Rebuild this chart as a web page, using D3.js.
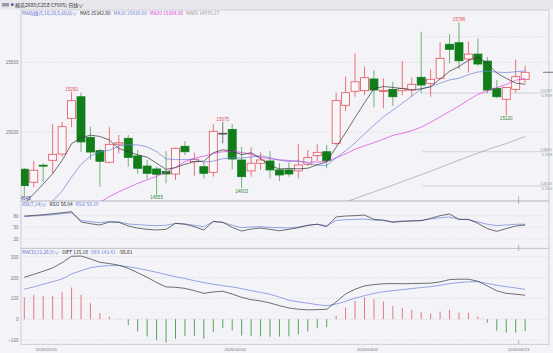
<!DOCTYPE html>
<html>
<head>
<meta charset="utf-8">
<script src="https://cdn.jsdelivr.net/npm/d3@7"></script>
<style>
  body { margin: 0; background: #f4f4f8; }
  svg { display: block; font-family: "Noto Sans CJK SC", "Noto Sans", sans-serif; }
</style>
</head>
<body>
<div id="chart"></div>
<script>
// Data (daily bars)
const opens  = [14736,14643,14765,14800,14845,15100,15254,14964,14869,14786,14915,14957,14831,14759,14738,14721,14702,14900,14790,14754,14714,14993,15021,14802,14724,14779,14795,14731,14731,14724,14771,14833,14861,14921,15193,15293,15297,15381,15292,15307,15297,15302,15393,15350,15386,15629,15640,15524,15559,15509,15314,15236,15307,15379];
const highs  = [14745,14797,14779,15059,15074,15290,15283,15040,14881,15036,14981,14981,14874,14802,14754,14866,14890,14938,14854,14783,15057,15075,15059,14897,14893,14857,14866,14779,14783,14914,14874,14914,14909,15283,15397,15564,15469,15445,15386,15361,15509,15390,15719,15450,15643,15702,15786,15647,15671,15536,15374,15321,15521,15476];
const lows   = [14545,14607,14647,14707,14826,15036,14861,14802,14610,14779,14850,14754,14702,14664,14555,14636,14659,14838,14690,14671,14683,14921,14736,14603,14683,14731,14671,14652,14683,14671,14759,14795,14743,14909,15152,15254,15266,15179,15171,15188,15266,15254,15279,15254,15379,15493,15452,15426,15474,15279,15243,15120,15283,15350];
const closes = [14619,14729,14758,14843,15040,15226,14931,14859,14793,14914,14925,14821,14743,14707,14700,14702,14886,14861,14807,14707,15007,14993,14809,14683,14779,14802,14731,14695,14702,14766,14821,14857,14797,15226,15283,15361,15390,15302,15300,15254,15314,15343,15338,15379,15529,15593,15511,15559,15488,15302,15254,15321,15397,15429];

const ma5  = [14490,14560,14630,14705,14798,14919,14960,14980,14970,14945,14884,14862,14839,14822,14779,14735,14748,14771,14791,14793,14854,14875,14865,14840,14854,14813,14761,14738,14742,14739,14743,14768,14789,14893,14997,15105,15211,15312,15327,15321,15312,15303,15310,15326,15381,15436,15470,15514,15536,15491,15423,15385,15352,15342.80];
const ma10 = [null,null,14450,14510,14580,14680,14770,14830,14860,14871,14902,14911,14910,14896,14862,14810,14805,14805,14807,14786,14794,14811,14818,14816,14823,14833,14818,14801,14791,14797,14778,14765,14763,14818,14868,14924,14990,15051,15110,15159,15208,15257,15311,15326,15351,15374,15386,15412,15431,15436,15430,15427,15433,15439.00];
const ma20 = [null,null,null,null,null,null,null,14470,14500,14540,14575,14605,14635,14660,14685,14715,14750,14790,14815,14829,14848,14861,14864,14856,14843,14821,14811,14803,14799,14791,14786,14788,14791,14817,14846,14879,14904,14926,14951,14978,14993,15011,15037,15072,15110,15149,15188,15231,15271,15297,15319,15342,15372,15384.08];
const ma60 = [null,null,null,null,null,null,null,null,null,null,null,null,null,null,null,null,null,null,null,null,null,null,null,null,null,null,null,null,null,null,null,null,null,14478,14502,14526,14551,14574,14598,14622,14648,14672,14697,14722,14748,14775,14801,14826,14851,14876,14898,14920,14945,14970.17];

const rsi1 = [79.5,81,83,85.5,88,90.8,64,59.5,56,64,63,53.5,48,44.7,43,44.7,60.4,58,51.7,43,65.5,63,49.8,40.3,45.5,48,44.7,41,44.7,49,55,58,51.7,77,79.5,80.4,82,70.8,69,63,65.5,66.4,67.3,73.4,80.4,84.7,70.8,70.8,60.4,46.5,39.5,46.5,53.5,56.04];
const rsi2 = [77.8,79.5,81,83,85.5,88,68,64.7,62.1,64.7,64,58.8,57,55.3,54.4,55.3,60.4,58.8,55.3,51.7,64.7,63,55.3,49,50.9,51.7,49.8,49,48,50.9,55.3,58,54.4,68,69.9,70.8,71.6,69,67.3,64.7,66.4,67.3,68,71.6,75,76.6,70.8,69.9,64,58,54.4,56.1,58,58.19];

const diff = [201,215,230,246,271,302,303,289,273,267,259,244,223,201,176,155,153,148,137,124,131,134,121,105,94,88,78,65,54,48,45,46,48,83,121,144,160,166,170,171,170,171,172,173,179,190,192,192,182,160,136,124,120,115.18];
const dea  = [144,155,168,180,193,217,233,247,254,257,257,252,244,235,225,214,204,195,185,176,168,161,155,147,137,129,120,106,91,83,77,70,65,73,86,101,113,124,132,137,142,147,152,156,163,171,176,179,180,172,163,156,150,143.41];
const macdHist = [105,117,112,112,131,152,117,77,29,13,2,-27,-59,-83,-99,-112,-93,-80,-80,-93,-61,-43,-54,-78,-80,-82,-84,-83,-82,-72,-59,-43,-38,16,57,88,105,97,85,64,54,45,34,26,37,45,32,32,13,-16,-54,-64,-64,-56.61];

const dateTickIndex  = [2, 22, 36, 52];
const dateTickLabels = ['2026/01/05', '2026/02/02', '2026/03/02', '2026/03/23'];
const priceTicks = [15000, 15500];
const rsiTicks   = [20, 50, 80];
const macdTicks  = [-100, 0, 100, 200, 300];

const highMarks = [5, 21, 46];
const lowMarks  = [0, 14, 23, 51];

const levelValues = [15683, 15281, 14861, 14616];
const levelRatios = ['', '0.809', '0.618', '0.500'];

// Dimensions
const dims = { width: 553, height: 353, left: 21, right: 549 };
const panes = {
  main: [10, 201],
  rsi:  [201, 248.3],
  macd: [248.3, 344.3],
};

const C = {
  up: '#e4505a', down: '#117d1b', downWick: '#4f9f4f', flat: '#555',
  ma5: '#333', ma10: '#6c80d8', ma20: '#e03ee0', ma60: '#a0a0a0',
  grid: '#cfcfd8', border: '#c4c4cc', axisText: '#777', label: '#5b6fd0',
};

const svg = d3.select('#chart')
  .append('svg')
  .attr('width', dims.width)
  .attr('height', dims.height);

// header strip
svg.append('rect').attr('width', dims.width).attr('height', 9.5).attr('fill', '#e7e7ec');
svg.append('rect').attr('x', 2).attr('y', 3).attr('width', 7).attr('height', 3.5).attr('fill', '#9a9aa6');
svg.append('rect').attr('x', 11).attr('y', 3.3).attr('width', 2.6).attr('height', 2.6).attr('fill', '#4a5fc8');
svg.append('text').attr('x', 15).attr('y', 7).attr('font-size', 5).attr('fill', '#333')
  .text('棉花2605(CZCE CF605)   日线∨');

// Scales
const x = d3.scalePoint()
  .domain(d3.range(closes.length))
  .range([24.3, 525.15]);

const yMain = d3.scaleLinear().domain([14509, 15874]).range([panes.main[1], panes.main[0]]);
const yRsi  = d3.scaleLinear().domain([-4.8, 118.7]).range([panes.rsi[1], panes.rsi[0]]);
const yMacd = d3.scaleLinear().domain([-120, 340]).range([panes.macd[1], panes.macd[0]]);

// clip paths
const defs = svg.append('defs');
Object.entries(panes).forEach(([k, [t, b]]) => {
  defs.append('clipPath').attr('id', 'clip-' + k)
    .append('rect')
    .attr('x', dims.left).attr('y', t)
    .attr('width', dims.right - dims.left).attr('height', b - t);
});

// pane frames
Object.values(panes).forEach(([t, b]) => {
  svg.append('rect')
    .attr('x', dims.left).attr('y', t)
    .attr('width', dims.right - dims.left).attr('height', b - t)
    .attr('fill', 'none').attr('stroke', C.border).attr('stroke-width', 0.8);
});

// grid + y axes
function yAxis(scale, ticks, fmt) {
  const g = svg.append('g');
  g.selectAll('line')
    .data(ticks)
    .join('line')
    .attr('x1', dims.left).attr('x2', dims.right)
    .attr('y1', d => scale(d)).attr('y2', d => scale(d))
    .attr('stroke', C.grid).attr('stroke-width', 0.6)
    .attr('stroke-dasharray', '1.5,1.5');
  const ax = svg.append('g')
    .attr('transform', `translate(${dims.left},0)`)
    .call(d3.axisLeft(scale).tickValues(ticks).tickSize(0).tickPadding(2.5).tickFormat(fmt));
  ax.select('.domain').remove();
  ax.selectAll('text').attr('font-size', 4.6).attr('fill', C.axisText)
    .attr('font-family', '"Liberation Sans", sans-serif');
}
yAxis(yMain, priceTicks, d3.format('d'));
yAxis(yRsi, rsiTicks, d3.format('d'));
yAxis(yMacd, macdTicks, d3.format('d'));

// Main pane
const main = svg.append('g').attr('clip-path', 'url(#clip-main)');

// level lines on the right
main.selectAll('line.level')
  .data(levelValues)
  .join('line')
  .attr('class', 'level')
  .attr('x1', x(42) + 1).attr('x2', dims.right)
  .attr('y1', d => yMain(d)).attr('y2', d => yMain(d))
  .attr('stroke', (d, i) => i === 0 ? C.grid : '#c2c2c8')
  .attr('stroke-width', 0.7)
  .attr('stroke-dasharray', (d, i) => i === 0 ? '1.5,1.5' : null);

const candleW = 8;
const bars = d3.range(closes.length).map(i => ({
  i, o: opens[i], h: highs[i], l: lows[i], c: closes[i],
}));
const colorOf = d => d.c > d.o ? C.up : (d.c < d.o ? C.down : C.flat);

main.selectAll('line.wick')
  .data(bars)
  .join('line')
  .attr('class', 'wick')
  .attr('x1', d => x(d.i)).attr('x2', d => x(d.i))
  .attr('y1', d => yMain(d.h)).attr('y2', d => yMain(d.l))
  .attr('stroke', d => d.c > d.o ? C.up : (d.c < d.o ? C.downWick : C.flat))
  .attr('stroke-width', 0.8);

main.selectAll('rect.body')
  .data(bars)
  .join('rect')
  .attr('class', 'body')
  .attr('x', d => x(d.i) - candleW / 2)
  .attr('y', d => yMain(Math.max(d.o, d.c)))
  .attr('width', candleW)
  .attr('height', d => Math.max(0.8, Math.abs(yMain(d.o) - yMain(d.c))))
  .attr('fill', d => d.c > d.o ? '#f8f8fb' : colorOf(d))
  .attr('stroke', colorOf)
  .attr('stroke-width', 0.8);

// moving averages
const lineOf = (scale) => d3.line()
  .defined(d => d != null)
  .x((d, i) => x(i))
  .y(d => scale(d));

[[ma60, C.ma60], [ma20, C.ma20], [ma10, C.ma10], [ma5, C.ma5]].forEach(([s, col]) => {
  main.append('path')
    .datum(s)
    .attr('d', lineOf(yMain))
    .attr('fill', 'none')
    .attr('stroke', col)
    .attr('stroke-width', 0.7);
});

// high / low marks
main.selectAll('text.hi')
  .data(highMarks)
  .join('text')
  .attr('x', i => x(i)).attr('y', i => yMain(highs[i]) - 1.2)
  .attr('text-anchor', 'middle').attr('font-size', 4.6).attr('fill', '#e0505a')
  .attr('font-family', '"Liberation Sans", sans-serif')
  .text(i => highs[i]);

main.selectAll('text.lo')
  .data(lowMarks)
  .join('text')
  .attr('x', i => x(i)).attr('y', i => Math.min(yMain(lows[i]) + 4.8, 199.6))
  .attr('text-anchor', 'middle').attr('font-size', 4.6)
  .attr('fill', i => i === 0 ? '#404080' : '#2f8a3a')
  .attr('font-family', '"Liberation Sans", sans-serif')
  .text(i => lows[i]);

// level labels at right edge
const lvl = svg.append('g').attr('font-size', 4.2).attr('fill', '#999')
  .attr('font-family', '"Liberation Sans", sans-serif');
levelValues.forEach((v, i) => {
  if (!levelRatios[i]) return;
  lvl.append('text').attr('x', 552).attr('y', yMain(v) - 0.8).attr('text-anchor', 'end').text(v);
  lvl.append('text').attr('x', 552).attr('y', yMain(v) + 4.2).attr('text-anchor', 'end').text(levelRatios[i]);
});

// last price marker
svg.append('line')
  .attr('x1', 543).attr('x2', 553)
  .attr('y1', yMain(closes[closes.length - 1])).attr('y2', yMain(closes[closes.length - 1]))
  .attr('stroke', '#555').attr('stroke-width', 0.8);

// RSI pane
const rsi = svg.append('g').attr('clip-path', 'url(#clip-rsi)');
[[rsi2, C.ma10], [rsi1, C.ma5]].forEach(([s, col]) => {
  rsi.append('path').datum(s).attr('d', lineOf(yRsi))
    .attr('fill', 'none').attr('stroke', col).attr('stroke-width', 0.7);
});

// MACD pane
const macd = svg.append('g').attr('clip-path', 'url(#clip-macd)');
macd.selectAll('line.hist')
  .data(macdHist)
  .join('line')
  .attr('x1', (d, i) => x(i)).attr('x2', (d, i) => x(i))
  .attr('y1', yMacd(0)).attr('y2', d => yMacd(d))
  .attr('stroke', d => d >= 0 ? '#e46a70' : '#3f9a4a')
  .attr('stroke-width', 0.9);
[[dea, C.ma10], [diff, C.ma5]].forEach(([s, col]) => {
  macd.append('path').datum(s).attr('d', lineOf(yMacd))
    .attr('fill', 'none').attr('stroke', col).attr('stroke-width', 0.7);
});

// cursor ticks at the last labelled date
const lastTick = x(dateTickIndex[dateTickIndex.length - 1]) + 3;
[[196.5, 201], [201, 204], [245, 248.3], [248.3, 251], [340.5, 344.3]].forEach(([a, b]) => {
  svg.append('line').attr('x1', lastTick).attr('x2', lastTick).attr('y1', a).attr('y2', b)
    .attr('stroke', '#888').attr('stroke-width', 0.6);
});

// date labels
svg.selectAll('text.date')
  .data(dateTickIndex)
  .join('text')
  .attr('x', i => x(i) + 3).attr('y', 351.2)
  .attr('text-anchor', 'middle').attr('font-size', 4.3).attr('fill', '#777')
  .attr('font-family', '"Liberation Sans", sans-serif')
  .text((d, k) => dateTickLabels[k]);

// legends
function legend(y, items) {
  let cx = 22;
  items.forEach(([txt, col]) => {
    const t = svg.append('text').attr('x', cx).attr('y', y)
      .attr('font-size', 4.8).attr('fill', col).text(txt);
    cx += t.node().getComputedTextLength() + 3;
  });
}
const last = closes.length - 1;
legend(15, [
  ['MA均线(5,10,20,5,60,0)∨', C.label],
  ['MA5 ' + ma5[last].toFixed(2), '#222'],
  ['MA10 ' + ma10[last].toFixed(2), C.ma10],
  ['MA20 ' + ma20[last].toFixed(2), C.ma20],
  ['MA60 ' + ma60[last].toFixed(2), '#999'],
]);
legend(206, [
  ['RSI(7,14)∨', C.label],
  ['RSI1 ' + rsi1[last].toFixed(2), '#222'],
  ['RSI2 ' + rsi2[last].toFixed(2), C.ma10],
]);
legend(254, [
  ['MACD(12,26,9)∨', C.label],
  ['DIFF ' + diff[last].toFixed(2), '#222'],
  ['DEA ' + dea[last].toFixed(2), C.ma10],
  [macdHist[last].toFixed(2), '#222'],
]);
</script>
</body>
</html>
